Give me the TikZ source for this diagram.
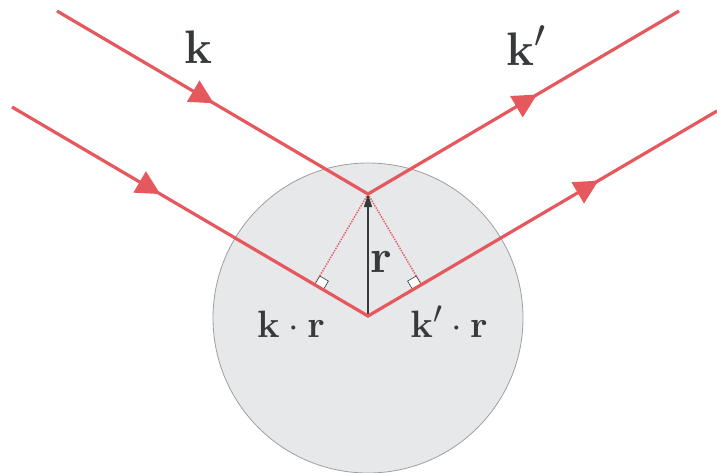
\documentclass[tikz,border=0pt]{standalone}
\usepackage{graphicx}
\usetikzlibrary{arrows.meta,decorations.markings}
\definecolor{ray}{RGB}{228,88,94}
\definecolor{ball}{RGB}{231,232,234}
\definecolor{ink}{RGB}{55,58,58}
\newcommand{\bigmath}[1]{\scalebox{1.89}{\Huge$#1$}}
\newcommand{\midmath}[1]{\scalebox{1.53}{\Huge$#1$}}
\tikzset{
  raypath/.style={draw=ray,line width=3.2pt,line join=miter},
  raytip/.style={Triangle[length=24pt,width=24pt]},
  rayarrow/.style={postaction={decorate,decoration={markings,
     mark=at position #1 with {\arrow[ray]{Triangle[length=24pt,width=24pt]}}}}},
  dotline/.style={draw=ray,line width=1.4pt,dash pattern=on 1.4pt off 1.2pt},
  rightmark/.style={draw=ink,line width=0.6pt,fill=white},
  biglabel/.style={text=ink,inner sep=0pt},
  smalllabel/.style={text=ink,inner sep=0pt,anchor=base}
}
\begin{document}
\begin{tikzpicture}[x=1pt,y=-1pt]
\useasboundingbox (0,0) rectangle (717,472);
\begin{scope}
  \clip (0,0) rectangle (717,472);
  \draw[fill=ball,draw=gray!75,line width=0.8pt] (368,318) circle[radius=155];
\end{scope}
% points
\coordinate (a1) at (57,11);
\coordinate (apex) at (368,194);
\coordinate (e1) at (679,11);
\coordinate (a2) at (12,107);
\coordinate (bot) at (368,316);
\coordinate (e2) at (717,111);
\coordinate (f1) at (314.7,284.6);
\coordinate (f2) at (421.3,284.6);
% dotted projections
\draw[dotline] (apex) -- (f1);
\draw[dotline] (apex) -- (f2);
% right-angle marks
\draw[rightmark] (f1) -- (323.3,289.7) -- (328.4,281.1) -- (319.8,276.0) -- cycle;
\draw[rightmark] (f2) -- (412.7,289.7) -- (407.6,281.1) -- (416.2,276.0) -- cycle;
% r vector
\draw[draw=ink,line width=1.1pt,-{Triangle[length=13pt,width=8pt]}] (bot) -- (apex);
% rays
\draw[raypath,rayarrow=182pt,postaction={decorate,decoration={markings,
     mark=at position 557pt with {\arrow[ray]{Triangle[length=24pt,width=24pt]}}}}]
  (a1) -- (apex) -- (e1);
\draw[raypath,rayarrow=172pt,postaction={decorate,decoration={markings,
     mark=at position 680pt with {\arrow[ray]{Triangle[length=24pt,width=24pt]}}}}]
  (a2) -- (bot) -- (e2);
% labels
\node[biglabel,anchor=base] (lk) at (198,63) {\bigmath{\mathbf{k}}};
\node[biglabel,anchor=base west] (lkp) at (506,65) {\bigmath{\mathbf{k}'}};
\node[biglabel,anchor=base] (lr) at (381,272) {\bigmath{\mathbf{r}}};
\node[smalllabel] (lkr) at (291,337) {\midmath{\mathbf{k}\cdot\mathbf{r}}};
\node[smalllabel] (lkpr) at (449,337) {\midmath{\mathbf{k}'\cdot\mathbf{r}}};
\end{tikzpicture}
\end{document}
